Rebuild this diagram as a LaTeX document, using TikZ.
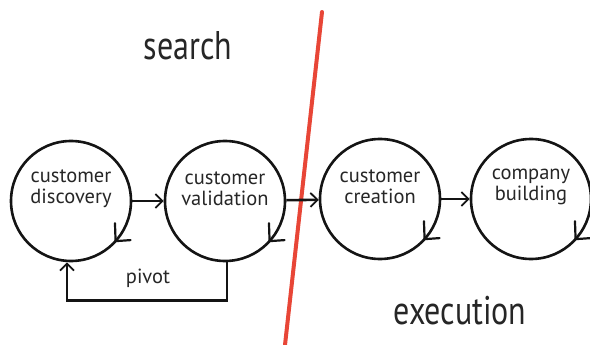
\documentclass[tikz,border=0pt]{standalone}
\usepackage{fontspec}
\setmainfont{PT Sans}
\usetikzlibrary{arrows.meta,calc}
\begin{document}
\begin{tikzpicture}[x=1pt,y=-1pt,
  stage/.style={circle,draw=black!92,line width=2.6pt,minimum size=120pt,inner sep=0pt},
  stagetext/.style={align=center,font=\fontsize{20.5}{21}\selectfont,text=black!85,inner sep=0pt},
  flow/.style={draw=black!92,line width=2.6pt,-{Straight Barb[length=7pt,width=14pt,line width=1.8pt]}},
  barb/.style={draw=black!92,line width=2.2pt,line cap=round,line join=miter},
  big/.style={font=\fontsize{40}{40}\selectfont,text=black!85,inner sep=0pt},
  divider/.style={draw={rgb,255:red,232;green,70;blue,55},line width=4pt,line cap=round},
]
\useasboundingbox (0,0) rectangle (590,345);
% divider
\coordinate (rtop) at (322,12);
\coordinate (rbot) at (285,345);
\draw[divider] (rtop) -- (rbot);
% stages
\node[stage] (c1) at (71,201) {};
\node[stage] (c2) at (225,201) {};
\node[stage] (c3) at (380,199) {};
\node[stage] (c4) at (531,199) {};
\node[stagetext] (t1) at (71,189) {customer\\discovery};
\node[stagetext] (t2) at (225,189) {customer\\validation};
\node[stagetext] (t3) at (380,187) {customer\\creation};
\node[stagetext] (t4) at (531,187) {company\\building};
% flows
\draw[flow] (c1) -- (c2);
\draw[flow] (c2) -- (c3);
\draw[flow] (c3) -- (c4);
% cycle marks (clockwise barbs)
\foreach \c in {c1,c2,c3,c4}{
  \coordinate (tip\c) at ($(\c.center)+(42:60)$);
  \draw[barb] ($(tip\c)+(-92:18)$) -- (tip\c) -- ($(tip\c)+(-4:15)$);
}
% pivot
\coordinate (pv1) at ([xshift=2pt]c2.south);
\coordinate (pv2) at ([xshift=-4pt]c1.south);
\draw[flow] (pv1) -- ++(0,38) -| (pv2);
\node[stagetext] (pivot) at (148,278) {pivot};
% phase labels
\node[big] (search) at (188,46) {\scalebox{0.8}[1]{search}};
\node[big] (execution) at (460,311) {\scalebox{0.8}[1]{execution}};
\end{tikzpicture}
\end{document}
